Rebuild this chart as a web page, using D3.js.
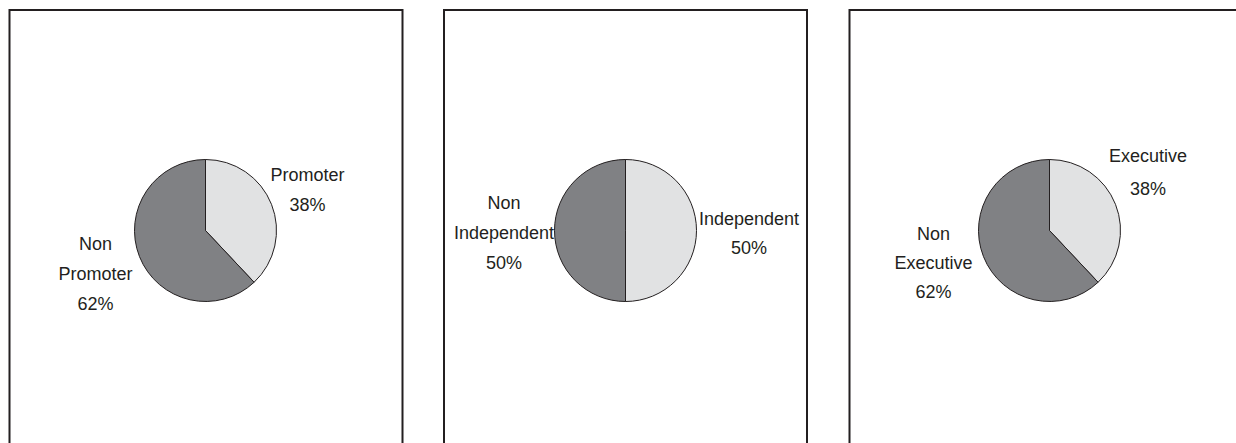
<!DOCTYPE html>
<html>
<head>
<meta charset="utf-8">
<script src="https://cdn.jsdelivr.net/npm/d3@7"></script>
<style>
  html, body { margin: 0; padding: 0; background: #fff; }
  svg { display: block; }
  text { font-family: "Liberation Sans", Arial, Helvetica, sans-serif; fill: #231f20; }
</style>
</head>
<body>
<svg id="chart" width="1236" height="443"></svg>
<script>
// Board composition, three breakdowns
const panelNames = ["Promoter", "Independent", "Executive"];
const sliceLabels = [
  ["Promoter", "Non Promoter"],
  ["Independent", "Non Independent"],
  ["Executive", "Non Executive"]
];
const sliceValues = [
  [38, 62],
  [50, 50],
  [38, 62]
];

const W = 1236, H = 443;
const svg = d3.select("#chart");

// frame extents of each panel
const frames = [
  { x0: 9.5, x1: 402.5, cx: 205.5 },
  { x0: 444, x1: 807, cx: 625.5 },
  { x0: 849.5, x1: 1250, cx: 1049.5 }
];
const cy = 230.5, radius = 71;

// label placement per panel: [light slice, dark slice] as offsets from pie centre
const labelPlacement = [
  [{ dx: 102, dy: -50, gap: 30, lines: ["Promoter"] },
   { dx: -110, dy: 19, gap: 30, lines: ["Non", "Promoter"] }],
  [{ dx: 123.5, dy: -6, gap: 29, lines: ["Independent"] },
   { dx: -121.5, dy: -22, gap: 30, lines: ["Non", "Independent"] }],
  [{ dx: 98.5, dy: -69, gap: 33, lines: ["Executive"] },
   { dx: -116, dy: 9, gap: 29, lines: ["Non", "Executive"] }]
];

const colour = d3.scaleOrdinal().domain([0, 1]).range(["#e1e2e3", "#808184"]);
const pie = d3.pie().sort(null).value(d => d);
const arc = d3.arc().innerRadius(0).outerRadius(radius);

panelNames.forEach((name, i) => {
  const f = frames[i];
  const g = svg.append("g").attr("class", "panel panel-" + name.toLowerCase());

  // open-bottom frame
  g.append("path")
    .attr("d", `M${f.x0},${H + 5}V10H${f.x1}V${H + 5}`)
    .attr("fill", "none")
    .attr("stroke", "#231f20")
    .attr("stroke-width", 2);

  const pg = g.append("g").attr("transform", `translate(${f.cx},${cy})`);
  const arcs = pie(sliceValues[i]);
  pg.selectAll("path.slice")
    .data(arcs)
    .join("path")
    .attr("class", "slice")
    .attr("d", arc)
    .attr("fill", (d, k) => colour(k))
    .attr("stroke", "#231f20")
    .attr("stroke-width", 1);

  arcs.forEach((a, k) => {
    const p = labelPlacement[i][k];
    const lines = p.lines.concat([sliceValues[i][k] + "%"]);
    const t = pg.append("text")
      .attr("text-anchor", "middle")
      .attr("font-size", "18px");
    lines.forEach((ln, j) => {
      t.append("tspan")
        .attr("x", p.dx)
        .attr("y", p.dy + j * p.gap)
        .text(ln);
    });
  });
});
</script>
</body>
</html>
